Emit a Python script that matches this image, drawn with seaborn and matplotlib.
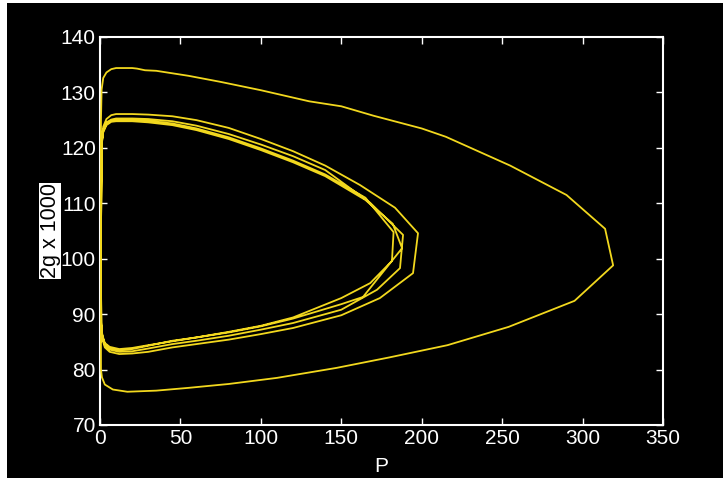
import pandas as pd
import matplotlib.pyplot as plt
import seaborn as sns
from matplotlib.patches import Rectangle

# trajectory: outer loop first, then the inner loops spiralling in
outer_P = [0.4, 0.5, 0.6, 1, 2, 4, 7, 10, 20, 23, 28, 35, 55, 75, 100, 130, 150, 170, 200, 215,
           255, 290, 314, 319, 295, 254, 216, 180, 147, 110, 80, 55, 35, 17, 8, 3, 1.2, 0.6]
outer_g = [85, 110, 125, 130.5, 132.6, 133.6, 134.2, 134.4, 134.4, 134.3, 134.0, 133.9, 133.0, 131.9,
           130.4, 128.4, 127.5, 125.8, 123.5, 122.0, 116.8, 111.5, 105.4, 98.8, 92.4, 87.7, 84.4, 82.2,
           80.3, 78.5, 77.4, 76.7, 76.2, 76.0, 76.4, 77.3, 78.6, 80]

loopA_P = [0.5, 1, 2, 4, 7, 10, 20, 30, 45, 60, 80, 100, 120, 140, 161.6, 183.4, 197.7,
           194.6, 174, 150, 120, 100, 80, 60, 45, 30, 20, 12, 6, 3, 1.5, 0.8]
loopA_g = [100, 121, 123.8, 125.2, 125.9, 126.1, 126.1, 126.0, 125.7, 125.0, 123.6, 121.6, 119.4, 116.8,
           113.3, 109.2, 104.6, 97.4, 92.9, 89.8, 87.5, 86.4, 85.4, 84.6, 84.0, 83.2, 82.9, 82.8, 83.2,
           84.0, 85.5, 88.0]

loopB_P = [0.5, 1, 2, 4, 7, 10, 20, 30, 45, 60, 80, 100, 120, 140, 167.9, 188.4,
           186.5, 172.2, 150, 120, 100, 80, 60, 45, 30, 20, 12, 6, 3, 1.5, 0.8]
loopB_g = [100, 120.8, 123.3, 124.6, 125.1, 125.3, 125.3, 125.2, 124.8, 124.0, 122.5, 120.6, 118.5, 116.0,
           110.1, 104.3, 98.3, 94.4, 90.8, 88.4, 87.2, 86.1, 85.2, 84.6, 83.8, 83.3, 83.2, 83.6, 84.4,
           85.8, 88.3]

loopC_P = [0.5, 1, 2, 4, 7, 10, 20, 30, 45, 60, 80, 100, 120, 140, 165, 182.5,
           181.5, 168, 150, 120, 100, 80, 60, 45, 30, 20, 12, 6, 3, 1.5, 0.8]
loopC_g = [100, 120.6, 123.0, 124.3, 124.9, 125.0, 125.0, 124.9, 124.4, 123.5, 121.9, 119.9, 117.7, 115.2,
           111.0, 104.8, 99.6, 95.6, 92.9, 89.4, 87.9, 86.8, 85.8, 85.2, 84.3, 83.7, 83.5, 83.9, 84.6,
           86.0, 88.5]

loopD_P = [0.5, 1, 2, 4, 7, 10, 20, 30, 45, 60, 80, 100, 120, 140, 165, 182, 187.8,
           163.5, 150, 120, 100, 80, 60, 45, 30, 20, 12, 6, 3, 1.5]
loopD_g = [100, 120.4, 122.8, 124.1, 124.7, 124.8, 124.8, 124.6, 124.1, 123.2, 121.6, 119.6, 117.4, 114.9,
           110.6, 106.3, 101.9, 93.1, 91.8, 89.2, 87.8, 86.7, 85.8, 85.1, 84.4, 83.9, 83.7, 84.1, 84.8, 86.2]

P = outer_P + loopA_P + loopB_P + loopC_P + loopD_P
g = outer_g + loopA_g + loopB_g + loopC_g + loopD_g
df = pd.DataFrame({'P': P, 'g': g})

plt.rcParams['font.family'] = ['Liberation Sans', 'DejaVu Sans']

fig = plt.figure(figsize=(7.23, 4.78), dpi=100, facecolor='white')
fig.patches.append(Rectangle((7 / 723, 0), 1, 1 - 3 / 478, transform=fig.transFigure,
                             facecolor='black', edgecolor='none', zorder=-1))
ax = fig.add_axes([100 / 723, 1 - 425 / 478, 563 / 723, 388 / 478])
ax.set_facecolor('black')

sns.lineplot(data=df, x='P', y='g', sort=False, estimator=None, color='#f2d81e',
             lw=1.3, ax=ax, zorder=3)

ax.set_xlim(0, 350)
ax.set_ylim(70, 140)
ax.set_xticks(range(0, 351, 50))
ax.set_yticks(range(70, 141, 10))
for s in ax.spines.values():
    s.set_color('white')
    s.set_linewidth(1.5)
ax.tick_params(direction='in', length=5, width=1, colors='white', labelsize=15,
               top=True, right=True, pad=3)
ax.set_xlabel('P', color='white', fontsize=15, labelpad=6)
ax.set_ylabel('2g x 1000', color='black', fontsize=15.5, labelpad=0,
              bbox=dict(facecolor='white', edgecolor='none', pad=0.5))

fig.savefig('out.png', dpi=100, facecolor=fig.get_facecolor())
